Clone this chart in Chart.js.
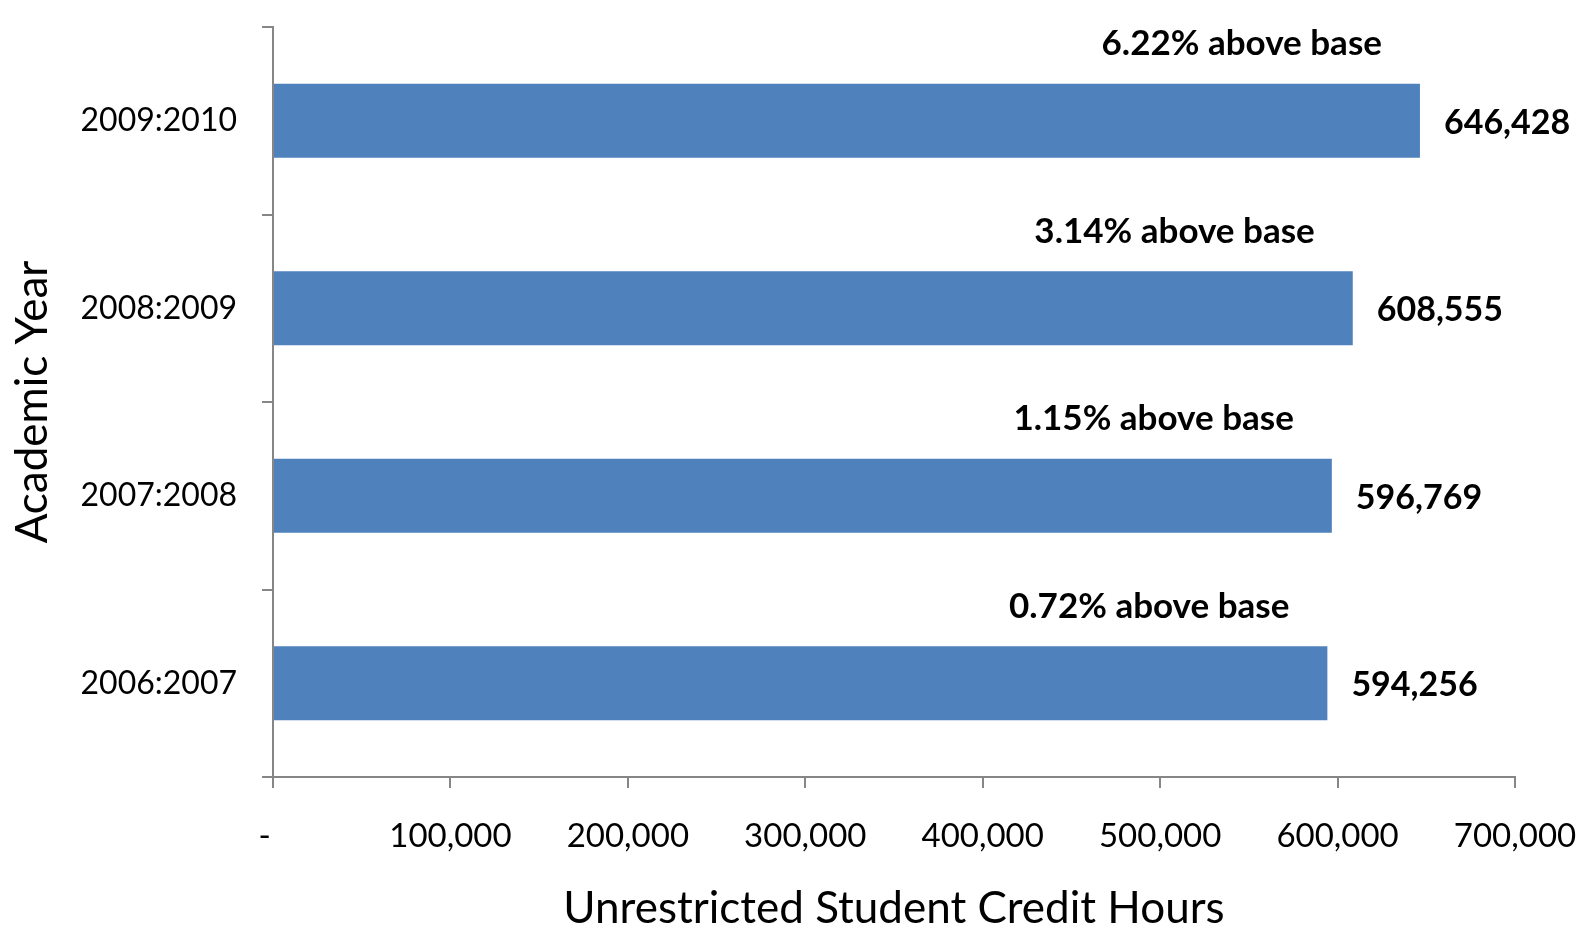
<!DOCTYPE html>
<html>
<head>
<meta charset="utf-8">
<script src="https://cdn.jsdelivr.net/npm/chart.js@4.4.1/dist/chart.umd.min.js"></script>
<style>
    html, body { margin: 0; padding: 0; background: #fff; }
    #wrap { width: 1587px; height: 929px; }
</style>
</head>
<body>
<div id="wrap"><canvas id="chart"></canvas></div>
<script>
// data, top bar first
const years = ["2009:2010", "2008:2009", "2007:2008", "2006:2007"];
const creditHours = [646428, 608555, 596769, 594256];
const aboveBase = ["6.22% above base", "3.14% above base", "1.15% above base", "0.72% above base"];
const xTickValues = [0, 100000, 200000, 300000, 400000, 500000, 600000, 700000];

const FONT = "Lato, 'Open Sans', sans-serif";
const axisGray = "#868686";

function fmt(v) {
    return v === 0 ? "-" : v.toLocaleString("en-US");
}

// bold value + "% above base" text beside each bar
const barLabels = {
    id: "barLabels",
    afterDatasetsDraw(chart) {
        let ctx = chart.ctx;
        let meta = chart.getDatasetMeta(0);
        ctx.save();
        ctx.fillStyle = "#000";
        for (let i = 0; i < meta.data.length; i++) {
            let bar = meta.data[i];
            let top = bar.y - bar.height / 2;
            ctx.font = "bold 34px " + FONT;
            ctx.textAlign = "left";
            ctx.textBaseline = "middle";
            ctx.fillText(fmt(creditHours[i]), bar.x + 24, bar.y + 2);
            ctx.font = "bold 35px " + FONT;
            ctx.textAlign = "right";
            ctx.fillText(aboveBase[i], bar.x - 38, top - 40);
        }
        ctx.restore();
    },
};

new Chart(document.getElementById("chart"), {
    type: "bar",
    data: {
        labels: years,
        datasets: [
            {
                data: creditHours,
                backgroundColor: "#4F81BD",
                barPercentage: 0.79,
                categoryPercentage: 0.5,
            },
        ],
    },
    plugins: [barLabels],
    options: {
        indexAxis: "y",
        responsive: true,
        maintainAspectRatio: false,
        animation: false,
        layout: { padding: { top: 27, right: 72, left: 0, bottom: 0 } },
        plugins: {
            legend: { display: false },
            tooltip: { enabled: false },
        },
        scales: {
            x: {
                min: 0,
                max: 700000,
                afterBuildTicks(scale) {
                    scale.ticks = xTickValues.map((v) => ({ value: v }));
                },
                afterFit(scale) {
                    scale.height = 152;
                    scale.paddingLeft = 0;
                    scale.paddingRight = 0;
                },
                border: { display: true, color: axisGray, width: 2 },
                grid: { display: true, drawOnChartArea: false, color: axisGray, lineWidth: 2, tickLength: 11 },
                ticks: {
                    color: "#000",
                    font: { family: FONT, size: 33 },
                    padding: 29,
                    maxRotation: 0,
                    autoSkip: false,
                    // accounting style dash sits a little left of the zero tick
                    callback: (v) => (v === 0 ? "-  " : fmt(v)),
                },
                title: {
                    display: true,
                    text: "Unrestricted Student Credit Hours",
                    color: "#000",
                    font: { family: FONT, size: 44, lineHeight: 0.9 },
                    padding: { top: 0, bottom: 0 },
                },
            },
            y: {
                afterFit(scale) {
                    scale.width = 273;
                    scale.paddingTop = 0;
                    scale.paddingBottom = 0;
                },
                border: { display: true, color: axisGray, width: 2 },
                grid: { display: true, drawOnChartArea: false, color: axisGray, lineWidth: 2, tickLength: 11, offset: true },
                ticks: {
                    color: "#000",
                    font: { family: FONT, size: 32 },
                    padding: 25,
                },
                title: {
                    display: true,
                    text: "Academic Year",
                    color: "#000",
                    font: { family: FONT, size: 44 },
                    padding: { top: 6, bottom: 0 },
                },
            },
        },
    },
});
</script>
</body>
</html>
